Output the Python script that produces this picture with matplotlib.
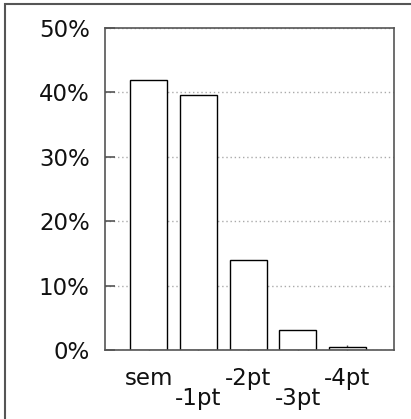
import matplotlib
matplotlib.use("Agg")
import matplotlib.pyplot as plt
from matplotlib.patches import Rectangle
from matplotlib.ticker import FuncFormatter

categories = ["sem", "-1pt", "-2pt", "-3pt", "-4pt"]
shares = [42.0, 39.6, 13.9, 3.1, 0.4]
y_ticks = [0, 10, 20, 30, 40, 50]

W, H = 411, 419
fig = plt.figure(figsize=(W / 100, H / 100), dpi=100)
plt.rcParams["font.family"] = ["DejaVu Sans"]

# frame around the whole figure
fig.patches.append(Rectangle((4.5 / W, -0.1), 1.2, 1 - 4.5 / H + 0.1,
                             transform=fig.transFigure, fill=False,
                             edgecolor="#555555", linewidth=1.5))

ax = fig.add_axes([105 / W, 1 - 350 / H, (394 - 105) / W, (350 - 28) / H])
x = list(range(len(categories)))
ax.bar(x, shares, width=0.745, facecolor="white", edgecolor="black",
       linewidth=1.0, zorder=2)

ax.set_xlim(-0.88, 4.94)
ax.set_ylim(0, 50)
ax.set_yticks(y_ticks)
ax.yaxis.set_major_formatter(FuncFormatter(lambda v, p: f"{v:.0f}%"))
ax.set_xticks(x)
ax.set_xticklabels([c if i % 2 == 0 else "\n" + c for i, c in enumerate(categories)],
                   linespacing=0.85)

ax.set_axisbelow(True)
ax.yaxis.grid(True, linestyle=(0, (1, 2)), color="#aaaaaa", linewidth=1.0)

for s in ax.spines.values():
    s.set_color("#555555")
    s.set_linewidth(1.2)

ax.tick_params(axis="y", direction="in", length=7.2, width=1.2, color="#555555",
               labelsize=16.5, pad=11, labelcolor="#111111")
ax.tick_params(axis="x", direction="in", length=3.6, width=1.0, color="#555555",
               labelsize=16.5, pad=12, labelcolor="#111111")

fig.savefig("out.png", dpi=100)
